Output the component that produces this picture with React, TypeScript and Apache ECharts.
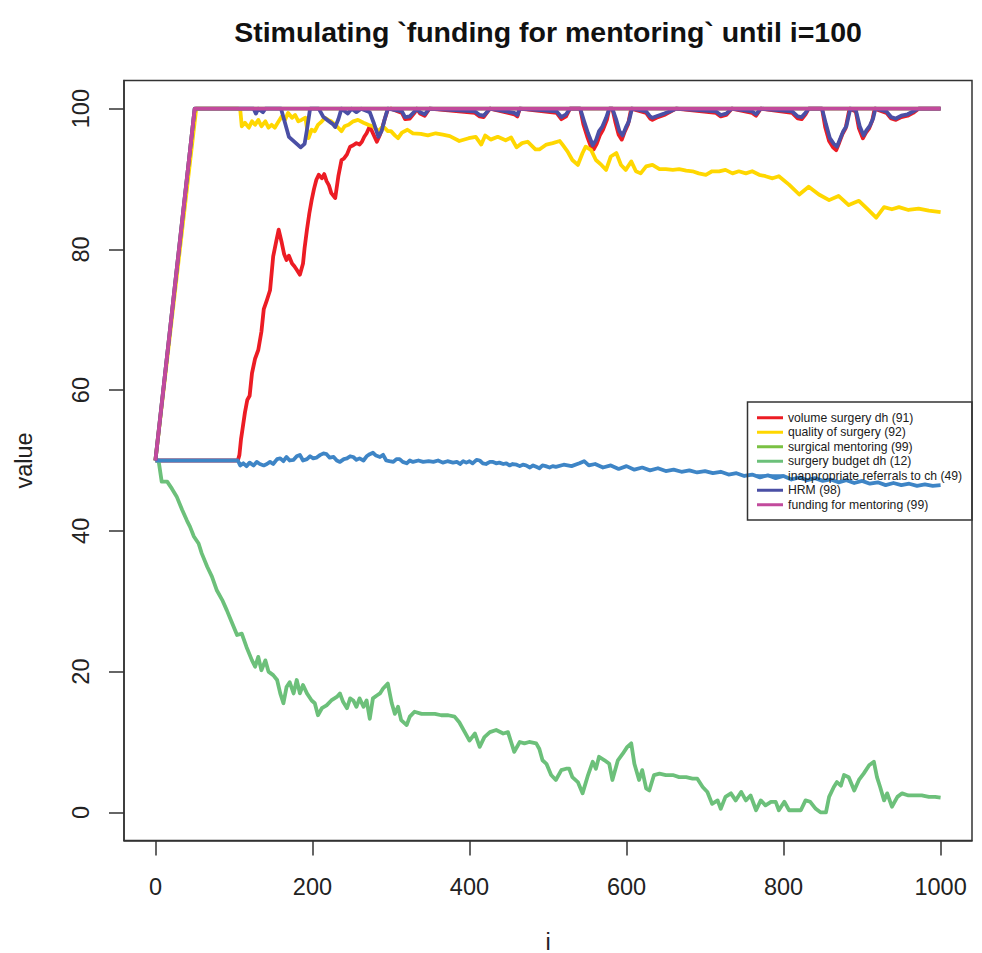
import React, { useEffect, useRef } from "react";
import * as echarts from "echarts";

const FONT = "'Liberation Sans', Arial, Helvetica, sans-serif";
const TITLE = "Stimulating `funding for mentoring` until i=100";
const X_NAME = "i";
const Y_NAME = "value";
const X_TICKS = [0, 200, 400, 600, 800, 1000];
const Y_TICKS = [0, 20, 40, 60, 80, 100];

const SERIES_NAMES = [
  "volume surgery dh (91)",
  "quality of surgery (92)",
  "surgical mentoring (99)",
  "surgery budget dh (12)",
  "inappropriate referrals to ch (49)",
  "HRM (98)",
  "funding for mentoring (99)",
];
const SERIES_COLORS = ["#EC1C24", "#FFD700", "#7AC143", "#6CC07A", "#3E85C6", "#4A4FA5", "#C24A9C"];

type P = [number, number];

const volumeSurgery: P[] = [
  [0, 50], [105, 50], [107, 50.8], [109, 53.0], [111, 54.5], [114, 56.8], [117, 58.6], [120, 59.2], [123, 62.4],
  [127, 64.5], [131, 65.7], [135, 68.3], [138, 71.5], [142, 72.8], [146, 74.2], [150, 79.0], [154, 81.2], [157, 82.8],
  [161, 80.9], [164, 79.3], [167, 78.5], [170, 79.1], [174, 78.0], [177, 77.6], [180, 77.1], [184, 76.4], [188, 78.0],
  [190, 80.2], [193, 82.8], [196, 85.1], [199, 87.0], [202, 88.6], [205, 89.9], [208, 90.6], [212, 90.1], [215, 90.7],
  [218, 89.7], [221, 89.1], [224, 88.0], [229, 87.3], [233, 90.4], [237, 92.7], [240, 92.9], [244, 93.5], [248, 94.6],
  [252, 94.8], [256, 95.1], [260, 94.9], [263, 95.3], [266, 96.0], [269, 96.5], [273, 97.5], [277, 96.5], [282, 95.3],
  [286, 96.3], [289, 97.3], [292, 98.5], [296, 99.9], [300, 100], [314, 99.4], [318, 98.5], [324, 98.6], [330, 99.4],
  [333, 100], [337, 99.3], [343, 99.0], [349, 100], [407, 99.4], [413, 98.9], [418, 98.8], [426, 100], [457, 99.2],
  [461, 98.9], [464, 100], [511, 99.4], [517, 98.5], [523, 98.9], [528, 100], [541, 100], [545, 97.8], [550, 96.0],
  [555, 94.5], [558, 94.2], [562, 95.0], [566, 96.2], [570, 97.0], [575, 98.4], [578, 100], [582, 100], [586, 98.0],
  [590, 96.3], [594, 95.6], [598, 96.8], [602, 97.8], [606, 100], [625, 99.4], [630, 98.6], [633, 98.4], [640, 98.8],
  [648, 99.1], [655, 99.5], [663, 100], [714, 99.4], [720, 98.9], [727, 99.1], [734, 100], [760, 99.4], [765, 99.0],
  [771, 100], [811, 99.4], [818, 98.6], [823, 98.5], [828, 99.2], [832, 100], [849, 100], [853, 97.4], [858, 95.4],
  [863, 94.5], [867, 94.1], [871, 95.2], [875, 96.4], [879, 97.2], [884, 100], [892, 99.6], [896, 97.2], [901, 95.8],
  [905, 96.6], [909, 97.2], [913, 98.3], [916, 100], [931, 99.4], [937, 98.6], [943, 98.4], [950, 98.8], [958, 99.0],
  [965, 99.4], [972, 100], [1000, 100],
];

const qualitySurgery: P[] = [
  [0, 50], [52, 100], [105, 100], [108, 99.9], [110, 97.5], [114, 98.0], [119, 97.3], [123, 98.2], [127, 97.7],
  [131, 98.4], [135, 97.5], [140, 98.2], [144, 97.3], [148, 97.7], [152, 97.3], [157, 98.2], [161, 98.9], [165, 98.4],
  [169, 99.4], [174, 98.7], [178, 99.1], [182, 98.2], [186, 98.4], [191, 98.7], [195, 95.8], [199, 97.0], [203, 96.8],
  [207, 97.7], [212, 98.2], [216, 98.7], [220, 98.4], [224, 98.2], [231, 97.5], [237, 96.8], [241, 97.5], [246, 97.7],
  [252, 98.2], [258, 98.4], [265, 98.0], [271, 97.7], [277, 97.5], [284, 96.8], [290, 97.5], [296, 96.8], [300, 96.8],
  [305, 96.2], [309, 95.8], [314, 96.6], [321, 97.0], [328, 96.5], [338, 96.4], [347, 96.2], [357, 96.5], [366, 96.3],
  [375, 96.1], [387, 95.4], [399, 95.8], [408, 96.0], [415, 94.9], [420, 96.2], [427, 95.6], [436, 96.0], [446, 95.5],
  [453, 95.9], [460, 94.5], [467, 95.1], [474, 95.3], [484, 94.2], [489, 94.2], [498, 94.9], [506, 95.1], [515, 95.4],
  [519, 94.8], [525, 93.9], [531, 92.7], [538, 92.0], [544, 93.7], [548, 94.6], [555, 94.1], [561, 92.7], [568, 92.0],
  [574, 91.3], [580, 93.2], [587, 93.7], [593, 92.0], [599, 91.3], [606, 92.5], [612, 91.1], [618, 90.8], [625, 91.8],
  [633, 92.0], [642, 91.4], [650, 91.4], [659, 91.3], [667, 91.4], [676, 91.2], [684, 91.1], [692, 90.8], [701, 90.6],
  [709, 91.1], [718, 91.1], [726, 91.3], [735, 90.8], [743, 91.1], [752, 90.8], [760, 91.1], [769, 90.6], [777, 90.4],
  [786, 90.1], [794, 90.4], [807, 89.2], [820, 87.8], [832, 88.9], [845, 87.8], [858, 87.0], [870, 87.6], [883, 86.3],
  [896, 86.9], [908, 85.6], [918, 84.5], [928, 86.0], [938, 85.7], [947, 86.0], [959, 85.6], [972, 85.8], [985, 85.5],
  [1000, 85.3],
];

const surgicalMentoring: P[] = [[0, 50], [50, 100], [1000, 100]];

const surgeryBudget: P[] = [
  [0, 50], [4, 50.0], [8, 47.0], [15, 47.0], [21, 46.0], [27, 44.9], [34, 43.0], [40, 41.5], [44, 40.6], [49, 39.2],
  [55, 38.2], [59, 36.8], [66, 34.9], [72, 33.5], [78, 31.6], [85, 30.2], [91, 28.7], [97, 27.1], [104, 25.2],
  [110, 25.4], [116, 23.5], [123, 21.6], [127, 20.7], [131, 22.1], [135, 20.2], [140, 21.6], [144, 20.0], [150, 19.5],
  [155, 18.8], [159, 16.9], [163, 15.5], [167, 17.8], [171, 18.5], [176, 16.9], [180, 18.8], [184, 16.9], [188, 18.1],
  [193, 16.9], [199, 15.9], [203, 15.5], [207, 13.8], [212, 14.8], [218, 15.2], [224, 15.9], [231, 16.4], [235, 16.9],
  [239, 15.7], [244, 14.8], [248, 16.2], [252, 15.9], [256, 15.0], [260, 16.2], [265, 15.0], [269, 15.9], [273, 13.3],
  [277, 16.2], [282, 16.6], [286, 16.9], [290, 17.6], [296, 18.3], [301, 15.5], [305, 14.0], [309, 15.0], [313, 13.1],
  [320, 12.4], [324, 13.6], [330, 14.3], [339, 14.0], [347, 14.0], [356, 14.0], [364, 13.8], [373, 13.8], [381, 13.6],
  [387, 12.8], [394, 11.4], [400, 10.2], [407, 11.2], [413, 9.3], [419, 10.7], [426, 11.4], [434, 11.7], [443, 11.2],
  [449, 11.4], [453, 10.0], [457, 8.6], [464, 10.0], [470, 9.8], [476, 10.0], [485, 9.8], [489, 9.0], [493, 7.4],
  [498, 6.9], [504, 5.3], [510, 4.6], [517, 6.0], [523, 6.2], [527, 6.2], [531, 5.0], [538, 4.3], [544, 2.7],
  [551, 5.3], [557, 7.2], [561, 6.2], [565, 7.9], [572, 7.4], [578, 6.9], [582, 4.6], [589, 7.4], [595, 8.3],
  [601, 9.3], [606, 9.8], [610, 6.9], [616, 4.6], [620, 6.0], [625, 3.4], [629, 3.1], [635, 5.3], [642, 5.5],
  [650, 5.3], [659, 5.3], [667, 5.0], [676, 5.0], [684, 4.8], [690, 4.8], [697, 3.6], [703, 2.9], [709, 1.2],
  [716, 1.7], [720, 0.5], [726, 2.2], [733, 2.7], [739, 1.7], [746, 2.9], [752, 1.7], [758, 2.4], [765, 0.3],
  [771, 1.7], [777, 1.0], [784, 1.5], [790, 1.5], [794, 0.3], [801, 1.5], [807, 0.3], [815, 0.3], [822, 0.3],
  [828, 1.7], [834, 1.5], [841, 0.5], [847, 0.0], [854, 0.0], [858, 2.2], [864, 3.6], [868, 4.3], [873, 3.8],
  [877, 5.3], [883, 5.0], [890, 3.1], [896, 4.6], [902, 5.5], [909, 6.7], [915, 7.2], [919, 5.0], [923, 3.6],
  [928, 1.7], [932, 2.7], [938, 0.8], [945, 2.2], [951, 2.7], [959, 2.4], [968, 2.4], [976, 2.4], [985, 2.2],
  [993, 2.2], [1000, 2.1],
];

const inappropriateReferrals: P[] = [
  [0, 50], [105, 50], [108, 49.3], [112, 49.6], [116, 49.2], [120, 49.7], [125, 49.3], [129, 49.8], [133, 49.5],
  [138, 49.3], [142, 49.5], [146, 49.8], [150, 49.5], [155, 50.2], [159, 50.3], [163, 49.9], [167, 50.5], [171, 50.0],
  [176, 50.1], [180, 50.6], [184, 50.8], [188, 50.0], [193, 50.2], [197, 50.6], [201, 50.3], [205, 50.4], [210, 50.8],
  [214, 51.0], [218, 50.9], [222, 50.4], [227, 50.5], [231, 50.0], [235, 49.8], [240, 50.2], [244, 50.3], [248, 50.6],
  [252, 50.5], [256, 50.1], [260, 50.3], [265, 50.0], [269, 50.6], [273, 50.9], [277, 51.1], [281, 50.7], [286, 50.5],
  [290, 50.8], [294, 50.0], [298, 49.9], [303, 49.8], [307, 50.2], [311, 50.2], [315, 49.8], [320, 49.6], [324, 50.0],
  [328, 49.8], [335, 50.0], [341, 49.8], [348, 49.9], [354, 49.8], [360, 50.0], [366, 49.7], [372, 49.9], [379, 49.7],
  [384, 49.8], [388, 49.5], [392, 49.9], [396, 49.7], [400, 49.9], [404, 49.6], [409, 50.1], [413, 50.0], [417, 49.6],
  [421, 49.5], [426, 49.8], [430, 49.8], [434, 49.6], [438, 49.7], [443, 49.5], [447, 49.6], [451, 49.3], [455, 49.5],
  [460, 49.4], [464, 49.2], [468, 49.4], [472, 49.3], [477, 49.0], [481, 49.3], [485, 49.1], [489, 48.9], [493, 49.3],
  [497, 49.2], [502, 49.0], [506, 49.2], [510, 49.1], [520, 49.4], [530, 49.2], [540, 49.6], [546, 49.9], [552, 49.3],
  [560, 49.5], [570, 49.0], [580, 49.3], [590, 48.8], [600, 49.2], [610, 48.7], [620, 49.0], [630, 48.6], [640, 48.9],
  [650, 48.5], [660, 48.7], [670, 48.4], [680, 48.6], [690, 48.3], [700, 48.5], [710, 48.2], [720, 48.4], [730, 48.0],
  [740, 48.2], [750, 47.8], [760, 48.0], [770, 47.6], [780, 47.9], [790, 47.5], [800, 47.8], [810, 47.3], [820, 47.6],
  [830, 47.2], [840, 47.5], [850, 47.1], [860, 47.3], [870, 46.9], [880, 47.2], [890, 46.8], [900, 47.1], [910, 46.7],
  [920, 46.9], [930, 46.5], [940, 46.8], [950, 46.5], [960, 46.7], [970, 46.4], [980, 46.6], [990, 46.4], [1000, 46.5],
];

const hrm: P[] = [
  [0, 50], [50, 100], [125, 100], [128, 99.3], [131, 100], [137, 99.5], [140, 100], [160, 100], [165, 98.0],
  [170, 96.0], [175, 95.5], [180, 95.0], [185, 94.5], [190, 95.0], [193, 97.0], [197, 100], [208, 100], [214, 98.8],
  [220, 98.3], [226, 97.8], [229, 97.4], [233, 98.5], [237, 100], [245, 99.3], [250, 100], [256, 99.5], [262, 100],
  [273, 99.5], [278, 98.0], [284, 96.0], [288, 96.8], [292, 98.5], [296, 100], [314, 99.6], [318, 98.8], [324, 98.9],
  [330, 99.6], [333, 100], [337, 99.5], [343, 99.2], [349, 100], [407, 99.6], [413, 99.1], [418, 99.0], [426, 100],
  [457, 99.4], [461, 99.1], [464, 100], [511, 99.6], [517, 98.8], [523, 99.2], [528, 100], [541, 100], [546, 98.2],
  [551, 96.5], [557, 94.8], [561, 95.5], [565, 96.8], [569, 97.4], [574, 98.7], [578, 100], [582, 100], [587, 98.4],
  [591, 96.8], [595, 96.2], [599, 97.3], [603, 98.2], [607, 100], [625, 99.6], [630, 98.9], [633, 98.7], [640, 99.0],
  [648, 99.3], [655, 99.6], [663, 100], [714, 99.6], [720, 99.1], [727, 99.3], [734, 100], [760, 99.6], [765, 99.2],
  [771, 100], [811, 99.6], [818, 98.9], [823, 98.8], [828, 99.4], [832, 100], [849, 100], [854, 97.8], [859, 95.8],
  [864, 95.0], [868, 94.6], [872, 95.7], [876, 96.8], [880, 97.5], [885, 100], [892, 99.8], [897, 97.5], [902, 96.2],
  [906, 97.0], [910, 97.6], [914, 98.6], [917, 100], [931, 99.6], [937, 98.8], [943, 98.6], [950, 99.0], [958, 99.2],
  [965, 99.6], [972, 100], [1000, 100],
];

const fundingMentoring: P[] = [[0, 50], [50, 100], [1000, 100]];

const SERIES_DATA = [
  volumeSurgery,
  qualitySurgery,
  surgicalMentoring,
  surgeryBudget,
  inappropriateReferrals,
  hrm,
  fundingMentoring,
];

export default function App() {
  const ref = useRef<HTMLDivElement>(null);

  useEffect(() => {
    document.body.style.margin = "0";
    const chart = echarts.init(ref.current!, null, { renderer: "svg" });
    const axisText = { fontSize: 23.5, color: "#222", fontFamily: FONT };
    const frameLine = { color: "#333", width: 1.5 };
    chart.setOption({
      animation: false,
      backgroundColor: "#fff",
      grid: {
        left: 124,
        top: 80.5,
        width: 848,
        height: 760,
        show: true,
        borderColor: "#333",
        borderWidth: 1.5,
        containLabel: false,
        outerBoundsMode: "none",
      },
      xAxis: {
        type: "value",
        min: -40,
        max: 1040,
        axisLine: { show: true, onZero: false, lineStyle: frameLine },
        axisTick: { show: true, length: 15, customValues: X_TICKS, lineStyle: frameLine },
        axisLabel: { customValues: X_TICKS, margin: 34, formatter: (v: number) => String(v), ...axisText },
        splitLine: { show: false },
        name: X_NAME,
        nameLocation: "middle",
        nameGap: 89,
        nameTextStyle: axisText,
      },
      yAxis: {
        type: "value",
        min: -4,
        max: 104,
        axisLine: { show: true, onZero: false, lineStyle: frameLine },
        axisTick: { show: true, length: 15, customValues: Y_TICKS, lineStyle: frameLine },
        axisLabel: { customValues: Y_TICKS, margin: 31, rotate: 90, formatter: (v: number) => String(v), ...axisText },
        splitLine: { show: false },
        name: Y_NAME,
        nameLocation: "middle",
        nameGap: 88,
        nameTextStyle: axisText,
      },
      legend: {
        orient: "vertical",
        left: 757,
        top: 410.5,
        padding: 0,
        itemWidth: 26,
        itemHeight: 3,
        itemGap: 0,
        itemTextGap: 10,
        icon: "rect",
        selectedMode: false,
        data: SERIES_NAMES,
        textStyle: { fontSize: 12.2, lineHeight: 14.5, color: "#1a1a1a", fontFamily: FONT },
      },
      graphic: [
        {
          type: "text",
          x: 548,
          y: 32,
          style: {
            text: TITLE,
            fontSize: 28.5,
            fontWeight: "bold",
            fontFamily: FONT,
            fill: "#111",
            textAlign: "center",
            textVerticalAlign: "middle",
          },
        },
        {
          type: "rect",
          shape: { x: 747.5, y: 402, width: 224.5, height: 118 },
          style: { fill: "none", stroke: "#333", lineWidth: 1.5 },
          z: 100,
        },
      ],
      series: SERIES_NAMES.map((name, k) => ({
        name,
        type: "line",
        data: SERIES_DATA[k],
        color: SERIES_COLORS[k],
        showSymbol: false,
        symbol: "none",
        lineStyle: { width: 3.8, color: SERIES_COLORS[k], join: "round" },
        z: 2 + k * 0.01,
        silent: true,
      })),
    });
    return () => chart.dispose();
  }, []);

  return (
    <div
      ref={ref}
      style={{ position: "fixed", left: 0, top: 0, width: 982, height: 953 }}
    />
  );
}
